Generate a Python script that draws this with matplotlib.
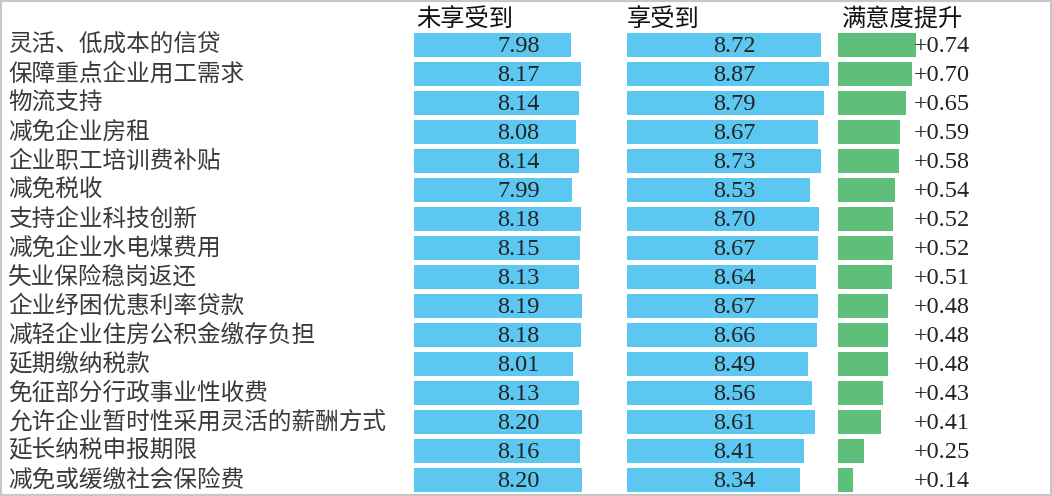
import matplotlib
matplotlib.use("Agg")
import matplotlib.pyplot as plt
from matplotlib.patches import Rectangle
from matplotlib.transforms import blended_transform_factory

plt.rcParams['font.family'] = ['Noto Sans CJK SC', 'DejaVu Sans']

# 政策名称
items = [
    "灵活、低成本的信贷", "保障重点企业用工需求", "物流支持", "减免企业房租",
    "企业职工培训费补贴", "减免税收", "支持企业科技创新", "减免企业水电煤费用",
    "失业保险稳岗返还", "企业纾困优惠利率贷款", "减轻企业住房公积金缴存负担",
    "延期缴纳税款", "免征部分行政事业性收费", "允许企业暂时性采用灵活的薪酬方式",
    "延长纳税申报期限", "减免或缓缴社会保险费",
]
not_enjoyed = [7.98, 8.17, 8.14, 8.08, 8.14, 7.99, 8.18, 8.15, 8.13, 8.19,
               8.18, 8.01, 8.13, 8.20, 8.16, 8.20]
enjoyed = [8.72, 8.87, 8.79, 8.67, 8.73, 8.53, 8.70, 8.67, 8.64, 8.67,
           8.66, 8.49, 8.56, 8.61, 8.41, 8.34]
lift = [0.74, 0.70, 0.65, 0.59, 0.58, 0.54, 0.52, 0.52, 0.51, 0.48,
        0.48, 0.48, 0.43, 0.41, 0.25, 0.14]
headers = ["未享受到", "享受到", "满意度提升"]

W, H = 1052, 496
fig = plt.figure(figsize=(W / 100, H / 100), dpi=100)
fig.patch.set_facecolor("white")

blue = "#5cc8f2"
green = "#5ebf7b"
txt = "#222222"

# 行布局：第一行中心距顶部45px，行距29px
top_px, row_px = 45 - 14.5, 29
n = len(items)
ax_bottom = (H - (top_px + row_px * n)) / H
ax_h = row_px * n / H


def make_ax(left_px, width_px):
    ax = fig.add_axes([left_px / W, ax_bottom, width_px / W, ax_h])
    ax.set_ylim(n - 0.5, -0.5)
    ax.axis("off")
    return ax


ys = list(range(n))
num_font = dict(fontsize=17.5, family="Liberation Serif", color=txt)

# 未享受到
ax1 = make_ax(414, 190)
base1 = 4.96
ax1.set_xlim(base1, base1 + 190 / 52)
ax1.barh(ys, [v - base1 for v in not_enjoyed], left=base1, height=0.83, color=blue)
for y, v in zip(ys, not_enjoyed):
    ax1.text(0.55, y + 0.04, f"{v:.2f}", transform=ax1.get_yaxis_transform(),
             ha="center", va="center", **num_font)

# 享受到
ax2 = make_ax(627, 205)
base2 = 5.2
ax2.set_xlim(base2, base2 + 205 / 55)
ax2.barh(ys, [v - base2 for v in enjoyed], left=base2, height=0.83, color=blue)
for y, v in zip(ys, enjoyed):
    ax2.text(0.525, y + 0.04, f"{v:.2f}", transform=ax2.get_yaxis_transform(),
             ha="center", va="center", **num_font)

# 满意度提升
ax3 = make_ax(838, 205)
ax3.set_xlim(0, 205 / 105)
ax3.barh(ys, lift, height=0.83, color=green)
for y, v in zip(ys, lift):
    ax3.text(0.37, y + 0.04, f"+{v:.2f}", transform=ax3.get_yaxis_transform(),
             ha="left", va="center", **num_font)

# 左侧标签
lab_tr = blended_transform_factory(fig.transFigure, ax1.transData)
for y, lab in zip(ys, items):
    ax1.text(8 / W, y, lab, transform=lab_tr, ha="left", va="center",
             fontsize=17, fontweight="light", color="#3a3a3a")

# 表头
for x_px, h in zip([416, 627, 842], headers):
    fig.text(x_px / W, 1 - 19 / H, h, ha="left", va="center", fontsize=17.5, color="#111111")

# 外框
fig.patches.append(Rectangle((0, 0), 1, 1, transform=fig.transFigure, fill=False,
                             edgecolor="#c8c8c8", linewidth=3))

fig.savefig("out.png", dpi=100)
